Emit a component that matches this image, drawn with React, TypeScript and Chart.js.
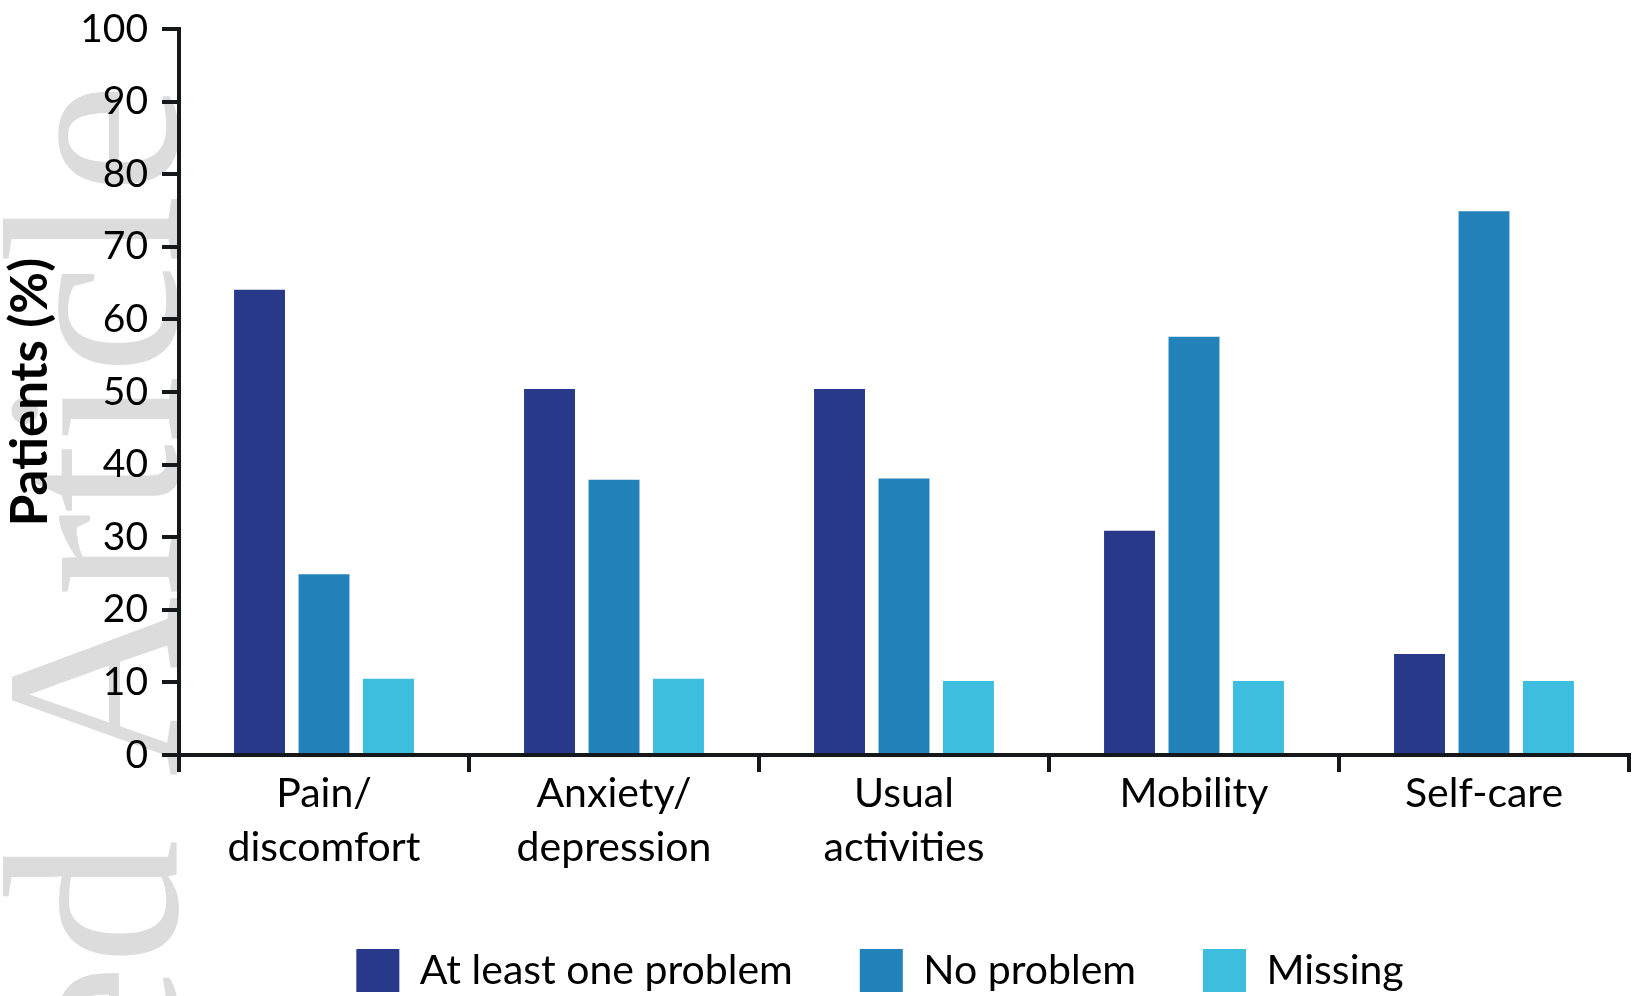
import React, { useEffect, useRef } from 'react';
import { Chart, registerables } from 'chart.js';

Chart.register(...registerables);

const categories: string[][] = [
  ['Pain/', 'discomfort'],
  ['Anxiety/', 'depression'],
  ['Usual', 'activities'],
  ['Mobility'],
  ['Self-care'],
];
const seriesNames = ['At least one problem', 'No problem', 'Missing'];
const atLeastOneProblem = [64.1, 50.4, 50.4, 30.9, 13.9];
const noProblem = [24.9, 37.9, 38.1, 57.6, 74.9];
const missing = [10.5, 10.5, 10.2, 10.2, 10.2];
const seriesColors = ['#29398A', '#2282B9', '#3EBEDF'];
const yMin = 0;
const yMax = 100;
const yStep = 10;
const yTitle = 'Patients (%)';
const watermark = 'Accepted Article';

const FONT = 'Lato';

const watermarkPlugin = {
  id: 'watermark',
  beforeDraw(chart: any) {
    const ctx = chart.ctx;
    ctx.save();
    ctx.translate(177, 83);
    ctx.rotate(-Math.PI / 2);
    ctx.font = '250px "Liberation Serif"';
    ctx.fillStyle = '#dcdcdc';
    ctx.textAlign = 'right';
    ctx.textBaseline = 'alphabetic';
    ctx.fillText(watermark, 0, 0);
    ctx.restore();
  },
};

const legendShiftPlugin = {
  id: 'legendShift',
  afterLayout(chart: any) {
    const lg = chart.legend;
    if (lg) {
      lg.left -= 24;
      lg.right -= 24;
    }
  },
};

export default function App() {
  const ref = useRef<HTMLCanvasElement | null>(null);
  useEffect(() => {
    document.body.style.margin = '0';
    if (!ref.current) return;
    const values = [atLeastOneProblem, noProblem, missing];
    const chart = new Chart(ref.current, {
      type: 'bar',
      data: {
        labels: categories,
        datasets: seriesNames.map((name, i) => ({
          label: name,
          data: values[i],
          backgroundColor: seriesColors[i],
          borderWidth: 0,
          categoryPercentage: 0.667,
          barPercentage: 0.79,
        })),
      },
      plugins: [watermarkPlugin, legendShiftPlugin],
      options: {
        animation: false,
        responsive: false,
        maintainAspectRatio: false,
        layout: { padding: { top: 29, right: 3, left: 0, bottom: -6 } },
        plugins: {
          tooltip: { enabled: false },
          legend: {
            position: 'bottom',
            fullSize: false,
            labels: {
              boxWidth: 43,
              boxHeight: 43,
              padding: 67,
              color: '#000',
              font: { family: FONT, size: 41 },
            },
          },
        },
        scales: {
          x: {
            afterFit: (s: any) => { s.height = 127; },
            grid: {
              display: true,
              drawOnChartArea: false,
              drawTicks: true,
              tickLength: 17,
              lineWidth: 4,
              color: '#15181b',
              offset: true,
            },
            border: { display: true, width: 4, color: '#15181b' },
            ticks: {
              color: '#000',
              padding: -5,
              font: { family: FONT, size: 41, lineHeight: 1.32 },
              maxRotation: 0,
            },
          },
          y: {
            min: yMin,
            max: yMax,
            afterFit: (s: any) => {
              s.width = 179;
              s.paddingTop = 0;
              s.paddingBottom = 0;
            },
            grid: {
              display: true,
              drawOnChartArea: false,
              drawTicks: true,
              tickLength: 17,
              lineWidth: 4,
              color: '#15181b',
            },
            border: { display: true, width: 4, color: '#15181b' },
            ticks: {
              stepSize: yStep,
              color: '#000',
              padding: 14,
              font: { family: FONT, size: 39 },
            },
            title: {
              display: true,
              text: yTitle,
              color: '#000',
              padding: 0,
              font: { family: FONT, size: 51, weight: 'bold' },
            },
          },
        },
      },
    });
    return () => chart.destroy();
  }, []);
  return <canvas ref={ref} width={1632} height={996} style={{ display: 'block' }} />;
}
